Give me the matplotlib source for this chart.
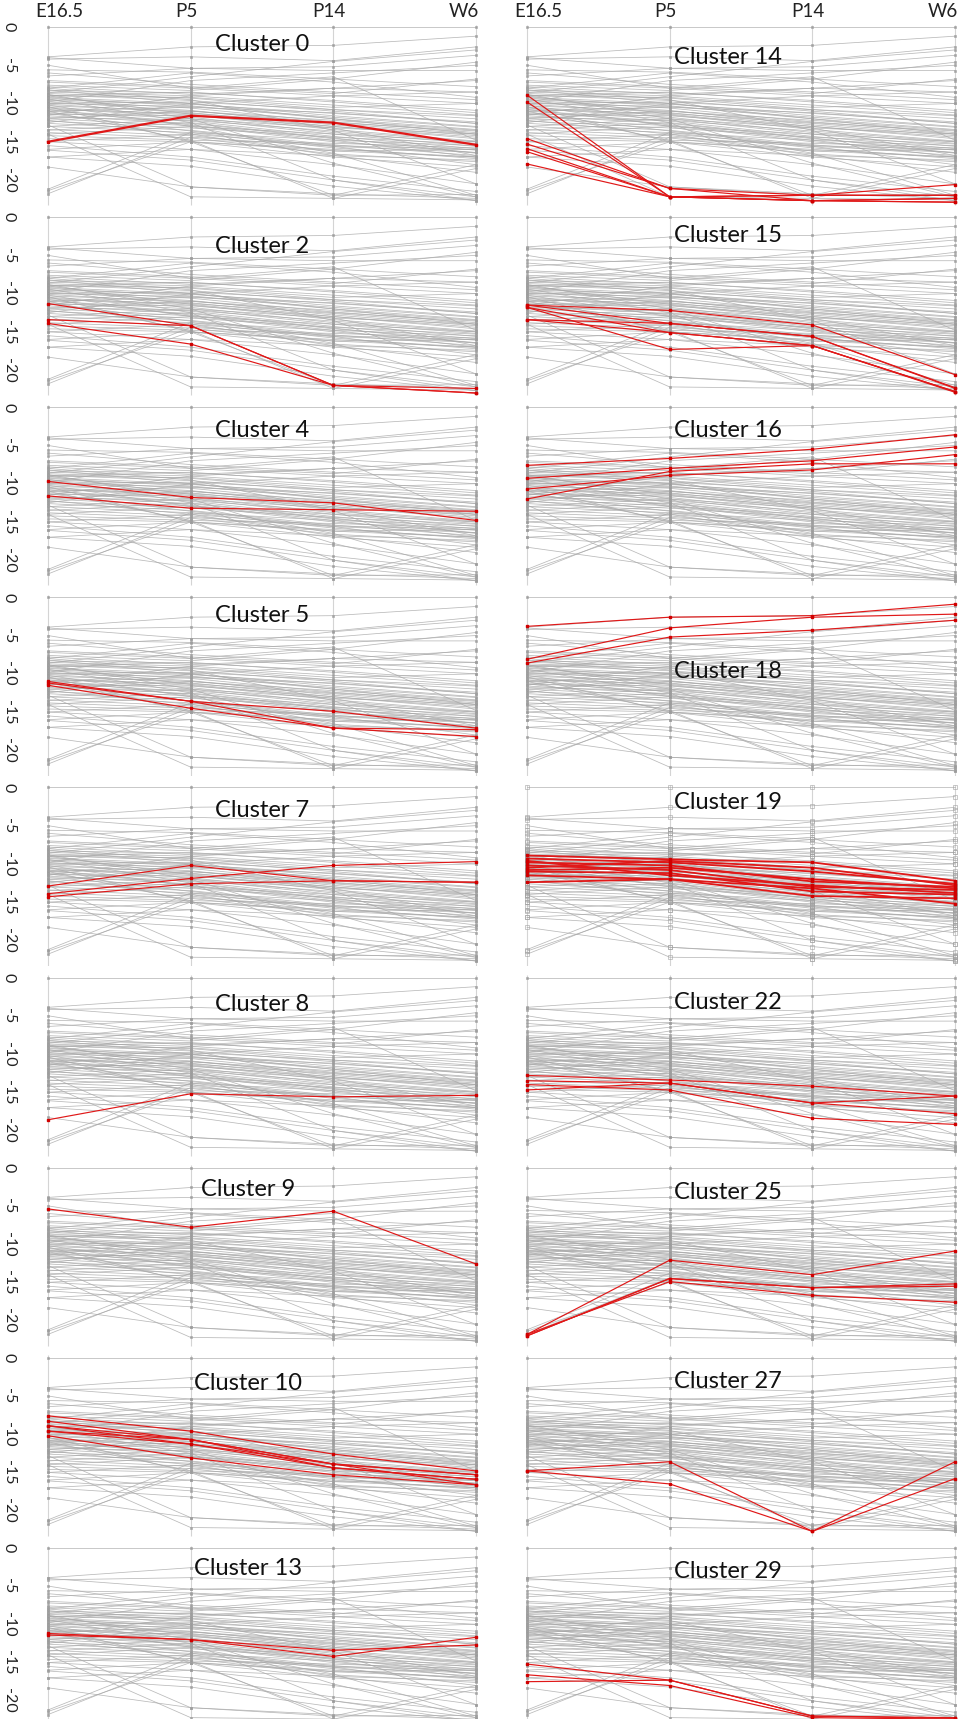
import matplotlib
matplotlib.use("Agg")
import matplotlib.pyplot as plt

plt.rcParams['font.family'] = ['Lato', 'DejaVu Sans']

stages = ["E16.5", "P5", "P14", "W6"]
y_ticks = [0, -5, -10, -15, -20]
y_tick_labels = ["0", "-5", "-10", "-15", "-20"]

# background profiles (all cluster centroids), values at E16.5, P5, P14, W6
background_genes = [
    (0.0, 0.0, 0.0, 0.0),
    (-3.9, -2.6, -2.4, -1.2),
    (-4.2, -3.9, -4.4, -2.6),
    (-4.0, -5.4, -5.2, -3.7),
    (-5.6, -5.9, -6.8, -4.6),
    (-6.4, -5.4, -5.7, -5.7),
    (-7.0, -7.8, -8.7, -6.8),
    (-7.6, -8.3, -6.8, -7.8),
    (-8.0, -6.0, -7.2, -9.2),
    (-8.3, -8.6, -9.6, -10.9),
    (-8.5, -9.0, -10.2, -11.5),
    (-8.7, -9.3, -10.8, -12.0),
    (-8.9, -9.6, -11.0, -12.6),
    (-9.0, -8.5, -9.8, -11.2),
    (-9.2, -10.0, -11.6, -13.0),
    (-9.3, -10.3, -12.0, -13.4),
    (-9.5, -10.1, -11.3, -12.4),
    (-9.6, -10.6, -12.4, -13.8),
    (-9.8, -10.9, -12.8, -14.2),
    (-10.0, -10.4, -11.8, -13.1),
    (-10.1, -11.2, -13.0, -14.6),
    (-10.3, -11.0, -12.2, -13.5),
    (-10.5, -11.5, -13.4, -14.9),
    (-10.6, -11.8, -13.8, -15.2),
    (-10.8, -11.3, -12.6, -14.0),
    (-11.0, -12.0, -14.0, -15.6),
    (-11.2, -12.3, -14.3, -15.9),
    (-11.4, -11.6, -13.0, -14.4),
    (-11.6, -12.6, -14.6, -16.1),
    (-11.8, -12.2, -13.6, -15.0),
    (-12.0, -12.9, -15.0, -16.4),
    (-12.3, -13.2, -14.4, -15.3),
    (-12.6, -13.5, -15.4, -16.8),
    (-13.0, -13.8, -15.8, -17.2),
    (-13.4, -14.2, -16.2, -16.0),
    (-13.8, -14.5, -16.6, -17.6),
    (-14.2, -14.8, -15.2, -15.8),
    (-14.6, -15.0, -17.0, -18.3),
    (-15.0, -16.0, -18.0, -20.5),
    (-15.5, -17.0, -19.5, -21.5),
    (-16.1, -17.4, -20.0, -22.2),
    (-17.0, -18.2, -20.8, -22.7),
    (-18.3, -20.9, -21.8, -22.4),
    (-21.4, -15.0, -16.0, -17.0),
    (-21.8, -14.4, -15.6, -16.4),
    (-21.2, -13.8, -14.8, -15.5),
    (-12.8, -20.9, -22.0, -21.9),
    (-14.0, -22.2, -22.4, -22.6),
    (-10.4, -15.0, -22.0, -18.0),
    (-11.0, -14.8, -22.4, -18.5),
    (-9.4, -12.5, -20.0, -22.7),
    (-8.8, -12.0, -17.8, -22.2),
    (-10.2, -13.0, -16.5, -22.0),
    (-8.0, -9.5, -13.5, -20.5),
    (-7.2, -8.0, -6.5, -14.8),
    (-5.0, -8.0, -9.0, -10.0),
    (-6.0, -7.5, -8.5, -9.5),
    (-7.8, -8.8, -8.0, -8.5),
    (-9.0, -9.2, -10.5, -10.0),
    (-10.0, -9.8, -10.8, -11.6),
    (-11.0, -10.5, -11.2, -12.6),
    (-12.0, -11.0, -12.5, -13.6),
    (-13.0, -12.0, -13.2, -14.0),
    (-13.5, -12.5, -14.5, -16.5),
    (-14.0, -13.0, -14.0, -15.0),
    (-15.0, -14.0, -15.5, -16.0),
    (-16.0, -15.0, -16.2, -17.0),
    (-17.0, -16.0, -16.8, -17.4),
    (-12.5, -10.0, -9.0, -8.5),
    (-11.5, -9.0, -8.0, -7.0),
    (-9.8, -7.0, -6.0, -5.0),
    (-8.6, -6.5, -4.5, -3.0),
    (-10.8, -12.8, -14.8, -17.0),
    (-11.3, -13.6, -15.6, -18.0),
    (-9.0, -11.4, -13.2, -16.8),
    (-8.2, -10.0, -12.0, -14.0),
    (-12.2, -14.0, -16.8, -19.0),
]

# highlighted member profiles per cluster
cluster_0 = [(-15.0, -11.6, -12.5, -15.4)]
cluster_2 = [(-11.3, -14.2, -22.0, -22.4), (-13.4, -14.2, -22.0, -23.0), (-13.9, -16.6, -22.0, -23.0)]
cluster_4 = [(-9.7, -11.8, -12.5, -14.8), (-11.6, -13.2, -13.4, -13.6)]
cluster_5 = [(-11.0, -13.6, -14.9, -17.1), (-11.5, -14.5, -17.1, -18.2), (-11.2, -13.6, -17.1, -17.3)]
cluster_7 = [(-12.9, -10.2, -12.2, -12.4), (-13.9, -11.9, -10.2, -9.7), (-14.3, -12.6, -12.2, -12.4)]
cluster_8 = [(-18.6, -15.2, -15.6, -15.4)]
cluster_9 = [(-5.4, -7.8, -5.7, -12.6)]
cluster_10 = [(-7.6, -9.6, -12.6, -14.8), (-8.3, -10.7, -13.9, -15.3), (-8.9, -10.7, -14.4, -15.9),
              (-9.6, -11.3, -13.9, -15.3), (-10.2, -13.1, -15.3, -16.6), (-8.9, -11.3, -14.4, -15.9),
              (-9.6, -10.7, -13.9, -16.6)]
cluster_13 = [(-11.2, -12.0, -13.4, -12.7), (-11.4, -12.0, -14.2, -11.7)]
cluster_14 = [(-8.9, -22.2, -22.7, -22.4), (-9.8, -22.2, -22.0, -20.6), (-14.6, -21.1, -22.0, -22.0),
              (-15.3, -21.1, -22.7, -22.9), (-15.9, -22.2, -22.0, -22.0), (-16.3, -22.2, -22.7, -22.4),
              (-17.9, -22.2, -22.7, -22.9)]
cluster_15 = [(-11.5, -12.2, -14.1, -20.6), (-11.5, -13.9, -15.6, -22.3), (-11.8, -15.1, -16.8, -22.8),
              (-13.4, -13.9, -15.6, -22.4), (-11.8, -17.3, -16.8, -22.8), (-13.4, -15.1, -16.8, -22.9)]
cluster_16 = [(-7.6, -6.7, -5.5, -3.6), (-9.3, -8.0, -7.0, -5.2), (-10.7, -8.9, -8.2, -6.2),
              (-12.0, -8.4, -7.4, -7.4)]
cluster_18 = [(-3.8, -2.6, -2.4, -0.9), (-8.1, -4.0, -2.6, -2.2), (-8.6, -5.2, -4.3, -3.0)]
cluster_19 = [(-8.9, -9.4, -9.8, -12.2), (-9.3, -9.8, -11.0, -12.6), (-9.8, -10.2, -12.3, -13.0),
              (-10.2, -10.8, -13.0, -13.4), (-10.5, -9.6, -10.5, -12.8), (-11.0, -11.2, -13.6, -14.0),
              (-11.5, -12.0, -14.2, -14.5), (-12.4, -12.0, -13.2, -15.2), (-9.6, -11.5, -12.8, -13.8),
              (-10.8, -10.5, -12.0, -13.2)]
cluster_22 = [(-12.8, -13.4, -14.2, -15.5), (-13.5, -13.8, -16.4, -15.5), (-14.0, -14.7, -18.4, -19.2),
              (-14.7, -13.8, -16.4, -17.8)]
cluster_25 = [(-21.8, -12.1, -14.0, -10.9), (-22.0, -14.5, -15.7, -15.2), (-21.8, -14.9, -16.7, -17.6),
              (-22.0, -14.5, -15.7, -15.5)]
cluster_27 = [(-14.8, -13.6, -22.7, -13.6), (-14.8, -16.5, -22.7, -15.8)]
cluster_29 = [(-15.2, -17.3, -22.0, -22.3), (-16.6, -18.0, -22.2, -22.4), (-17.5, -17.3, -22.0, -22.2)]

left_clusters = [0, 2, 4, 5, 7, 8, 9, 10, 13]
right_clusters = [14, 15, 16, 18, 19, 22, 25, 27, 29]
highlights = {
    0: cluster_0, 2: cluster_2, 4: cluster_4, 5: cluster_5, 7: cluster_7, 8: cluster_8,
    9: cluster_9, 10: cluster_10, 13: cluster_13, 14: cluster_14, 15: cluster_15,
    16: cluster_16, 18: cluster_18, 19: cluster_19, 22: cluster_22, 25: cluster_25,
    27: cluster_27, 29: cluster_29,
}

# ---- layout (pixels) ----
W, H = 964, 1719
PX_X = 142.67            # px per stage step
PX_Y = 7.65              # px per unit
COL_X0 = [48, 527]       # pixel x of E16.5 axis
ROW_Y0 = 27              # pixel y of zero line, first row
ROW_STEP = 190.1
XLIM = (-0.03, 3.03)
YLIM = (-23.4, 0.5)

title_pos = {
    0: (1.5, -2.35), 2: (1.5, -3.8), 4: (1.5, -3.1), 5: (1.5, -2.35), 7: (1.5, -3.0),
    8: (1.5, -3.5), 9: (1.40, -2.9), 10: (1.40, -3.4), 13: (1.40, -2.75),
    14: (1.41, -4.0), 15: (1.41, -2.35), 16: (1.41, -3.1), 18: (1.41, -9.7),
    19: (1.41, -2.0), 22: (1.41, -3.3), 25: (1.41, -3.3), 27: (1.41, -3.1), 29: (1.41, -3.1),
}
red_width = {0: 1.6, 19: 1.3}

fig = plt.figure(figsize=(W / 100, H / 100), dpi=100)
xs = list(range(len(stages)))

def make_axes(col, row):
    x0 = COL_X0[col] + XLIM[0] * PX_X
    w = (XLIM[1] - XLIM[0]) * PX_X
    ytop = ROW_Y0 + row * ROW_STEP - YLIM[1] * PX_Y
    h = (YLIM[1] - YLIM[0]) * PX_Y
    return fig.add_axes([x0 / W, 1 - (ytop + h) / H, w / W, h / H])

for col, clist in enumerate([left_clusters, right_clusters]):
    for row, cid in enumerate(clist):
        ax = make_axes(col, row)
        ax.set_xlim(*XLIM)
        ax.set_ylim(*YLIM)
        for s in ax.spines.values():
            s.set_visible(False)
        ax.set_xticks([])
        ax.vlines(xs, -23.3, 0.3, color='#d4d4d4', lw=0.8, zorder=1)
        hollow = cid == 19
        for prof in background_genes:
            ax.plot(xs, prof, color='#a8a8a8', lw=0.55, alpha=0.8,
                    marker='s', ms=3.2 if hollow else 1.6,
                    mfc='none' if hollow else '#9a9a9a', mec='#a0a0a0', mew=0.5, zorder=2)
        for prof in highlights[cid]:
            ax.plot(xs, prof, color='#e01818', lw=red_width.get(cid, 0.85), marker='s', ms=1.6,
                    mfc='#d00000', mec='#d00000', zorder=3)
        tx, ty = title_pos[cid]
        ax.text(tx, ty, f"Cluster {cid}", fontsize=17, ha='center', va='center', color='#111111', zorder=4)
        if col == 0:
            ax.set_yticks(y_ticks)
            ax.set_yticklabels(y_tick_labels, rotation=-90, ha='center', va='center', fontsize=11.5,
                               color='#222222')
            ax.tick_params(axis='y', length=0, pad=25)
        else:
            ax.set_yticks([])
        if row == 0:
            for i, lab in enumerate(stages):
                ha = 'left' if i == 0 else ('right' if i == 3 else 'center')
                dx = -0.09 if i == 0 else (0.02 if i == 3 else -0.03)
                ax.text(i + dx, 0.85, lab, fontsize=13.5, ha=ha, va='bottom', color='#222222',
                        clip_on=False)

fig.savefig("out.png", dpi=100, facecolor='white')
